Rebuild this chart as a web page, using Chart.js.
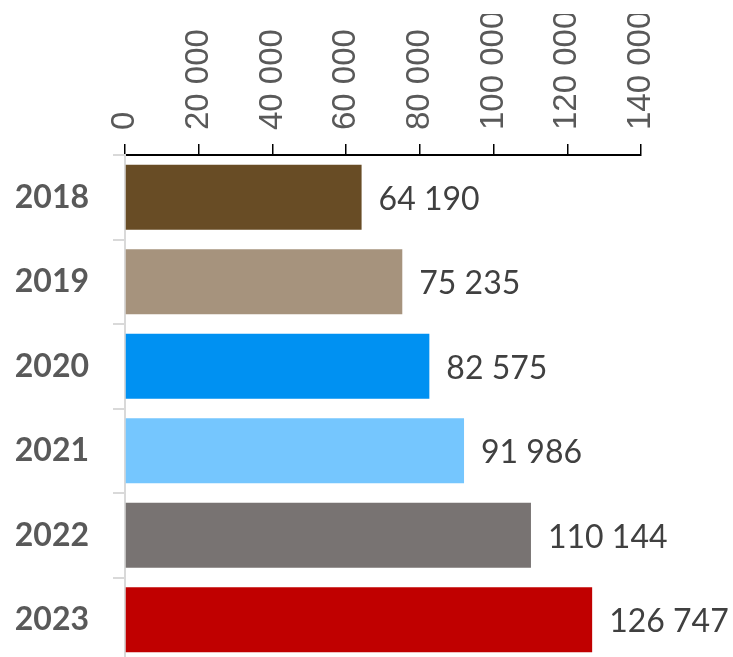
<!DOCTYPE html>
<html>
<head>
<meta charset="utf-8">
<script src="https://cdn.jsdelivr.net/npm/chart.js@4.4.1/dist/chart.umd.min.js"></script>
<style>
  html, body { margin: 0; padding: 0; background: #ffffff; overflow: hidden; }
  #wrap { width: 733px; height: 662px; }
</style>
</head>
<body>
<div id="wrap"><canvas id="c" width="733" height="662"></canvas></div>
<script>
const categories = ['2018', '2019', '2020', '2021', '2022', '2023'];
const values = [64190, 75235, 82575, 91986, 110144, 126747];
const barColors = ['#684C25', '#A6937D', '#0091F2', '#75C6FE', '#787372', '#C00000'];
const xTickLabels = ['0', '20 000', '40 000', '60 000', '80 000', '100 000', '120 000', '140 000'];
const xStep = 20000;

function fmt(v) {
  return String(v).replace(/\B(?=(\d{3})+(?!\d))/g, ' ');
}
const valueLabels = values.map(fmt);

const valueLabelPlugin = {
  id: 'valueLabels',
  afterDatasetsDraw(chart) {
    const ctx = chart.ctx;
    const meta = chart.getDatasetMeta(0);
    ctx.save();
    ctx.font = '32px Lato';
    ctx.fillStyle = '#404040';
    ctx.textAlign = 'left';
    ctx.textBaseline = 'middle';
    meta.data.forEach((bar, i) => {
      ctx.fillText(valueLabels[i], bar.x + 17, bar.y + 2);
    });
    ctx.restore();
  }
};

const X_FONT = 33;
const X_LINE_H = 1.2 * X_FONT;

new Chart(document.getElementById('c'), {
  type: 'bar',
  data: {
    labels: categories,
    datasets: [{
      data: values,
      backgroundColor: barColors,
      borderWidth: 0,
      barPercentage: 0.77,
      categoryPercentage: 1.0
    }]
  },
  options: {
    indexAxis: 'y',
    responsive: false,
    animation: false,
    events: [],
    layout: { padding: { left: 15, right: 92, top: 14, bottom: 0 } },
    plugins: {
      legend: { display: false },
      tooltip: { enabled: false }
    },
    scales: {
      x: {
        type: 'linear',
        position: 'top',
        min: 0,
        max: 140000,
        afterFit(scale) {
          scale.height = 141;
          scale.paddingLeft = 0;
          scale.paddingRight = 0;
        },
        ticks: {
          stepSize: xStep,
          minRotation: 90,
          maxRotation: 90,
          padding: 14,
          labelOffset: X_LINE_H,
          color: '#595959',
          font: { family: 'Liberation Sans', size: X_FONT, lineHeight: 1.2 },
          callback: (v) => xTickLabels[Math.round(v / xStep)]
        },
        grid: {
          drawOnChartArea: false,
          drawTicks: true,
          tickLength: 11,
          color: '#000000',
          lineWidth: 1.5
        },
        border: { display: true, color: '#000000', width: 2 }
      },
      y: {
        afterFit(scale) {
          scale.width = 110;
          scale.paddingTop = 0;
          scale.paddingBottom = 0;
        },
        ticks: {
          padding: 24,
          color: '#595959',
          font: { family: 'Lato', size: 32, weight: 'bold' }
        },
        grid: {
          drawOnChartArea: false,
          drawTicks: true,
          tickLength: 12,
          color: '#D9D9D9',
          lineWidth: 2
        },
        border: { display: true, color: '#D9D9D9', width: 2 }
      }
    }
  },
  plugins: [valueLabelPlugin]
});
</script>
</body>
</html>
